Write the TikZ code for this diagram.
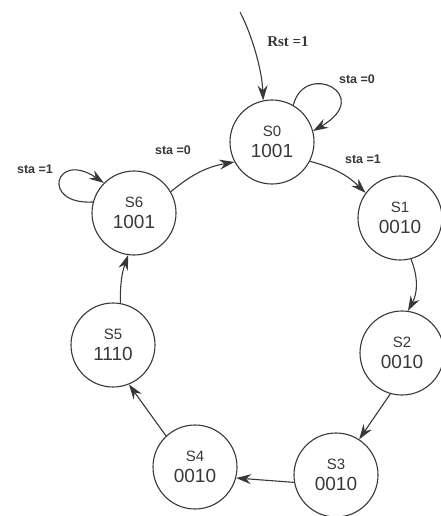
\documentclass[tikz,border=0pt]{standalone}
\usepackage{fontspec}
\setmainfont{Liberation Sans}
\newfontfamily\serifb{Liberation Serif}
\usetikzlibrary{arrows.meta}
\definecolor{ink}{HTML}{383838}
\tikzset{
  state/.style={circle, draw=ink, line width=1.1pt, minimum size=84pt, inner sep=0pt, align=center, text=ink},
  conn/.style={draw=ink, line width=1.1pt, -{Stealth[length=15pt,width=10pt,inset=5pt]}},
  elabel/.style={text=ink, font=\fontsize{12.5}{14}\selectfont\bfseries, inner sep=0pt}
}
\newcommand{\stlab}[2]{{\fontsize{15}{17}\selectfont #1}\\[6pt]{\fontsize{19}{21}\selectfont #2}}
\begin{document}
\begin{tikzpicture}
\useasboundingbox (0,0) rectangle (440pt,-516pt);
\begin{scope}[x=1pt,y=1pt]
\node[state] (S0) at (272,-142) {\stlab{S0}{1001}};
\node[state] (S1) at (400,-218) {\stlab{S1}{0010}};
\node[state] (S2) at (402,-353) {\stlab{S2}{0010}};
\node[state] (S3) at (336,-475) {\stlab{S3}{0010}};
\node[state] (S4) at (195,-467) {\stlab{S4}{0010}};
\node[state] (S5) at (113,-345) {\stlab{S5}{1110}};
\node[state] (S6) at (134,-213) {\stlab{S6}{1001}};
\coordinate (rst) at (240,-12);

\draw[conn] (rst) .. controls (252,-35) and (262,-70) .. (S0.102);
\draw[conn] (S0.60) .. controls (305,-60) and (375,-95) .. (S0.15);
\draw[conn] (S0.333) to[bend left=15] (S1.144);
\draw[conn] (S1.285) to[bend left=25] (S2.82);
\draw[conn] (S2.254) -- (S3.57);
\draw[conn] (S3.190) -- (S4.345);
\draw[conn] (S4.133) -- (S5.292);
\draw[conn] (S5.80) to[bend left=10] (S6.262);
\draw[conn] (S6.165) .. controls (40,-205) and (55,-150) .. (S6.135);
\draw[conn] (S6.30) to[bend left=15] (S0.208);

\node[text=ink, font=\serifb\fontsize{15}{17}\selectfont\bfseries, inner sep=0pt] (lrst) at (288,-42) {Rst =1};
\node[elabel] (l0a) at (357,-79) {sta =0};
\node[elabel] (l1a) at (363,-159) {sta =1};
\node[elabel] (l0b) at (173,-150) {sta =0};
\node[elabel] (l1b) at (35,-169) {sta =1};
\end{scope}
\end{tikzpicture}
\end{document}
